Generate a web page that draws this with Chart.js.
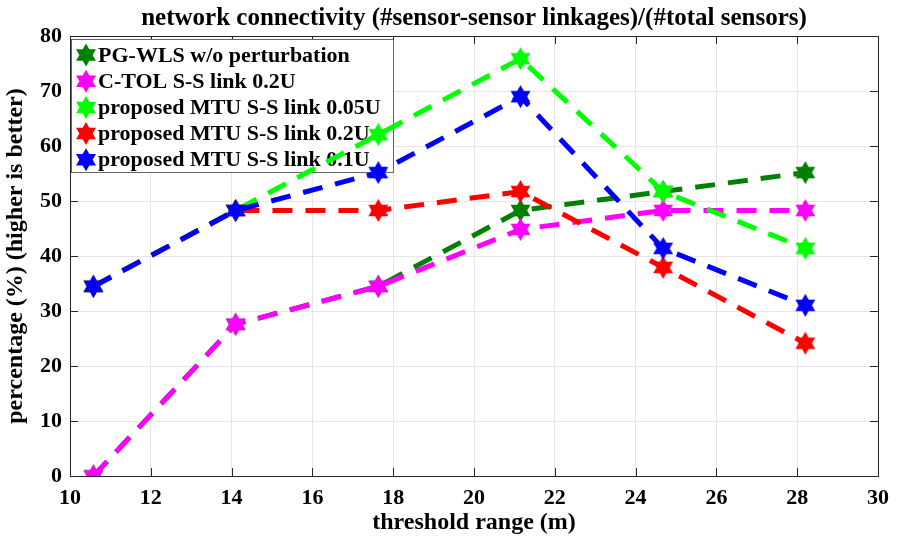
<!DOCTYPE html>
<html lang="en">
<head>
    <meta charset="utf-8">
    <script src="https://cdn.jsdelivr.net/npm/chart.js"></script>
    <title>network connectivity</title>
    <style>
        html, body { margin: 0; padding: 0; background: #fff; }
        #wrap { width: 898px; height: 538px; }
    </style>
</head>
<body>
<div id="wrap"><canvas id="chart"></canvas></div>

<script>
    // threshold range (m) on x, percentage on y
    const thresholds = [10.58, 14.1, 17.63, 21.15, 24.68, 28.2];

    const pgWls  = [0, 27.59, 34.48, 48.28, 51.72, 55.17];
    const cTol   = [0, 27.59, 34.48, 44.83, 48.28, 48.28];
    const mtu005 = [34.48, 48.28, 62.07, 75.86, 51.72, 41.38];
    const mtu02  = [34.48, 48.28, 48.28, 51.72, 37.93, 24.14];
    const mtu01  = [34.48, 48.28, 55.17, 68.97, 41.38, 31.03];

    const seriesNames = [
        'PG-WLS w/o perturbation',
        'C-TOL S-S link 0.2U',
        'proposed MTU S-S link 0.05U',
        'proposed MTU S-S link 0.2U',
        'proposed MTU S-S link 0.1U'
    ];
    const seriesColors = ['#008000', '#ff00ff', '#00ff00', '#ff0000', '#0000ff'];
    const seriesValues = [pgWls, cTol, mtu005, mtu02, mtu01];

    const xMin = 10, xMax = 30, xStep = 2;
    const yMin = 0, yMax = 80, yStep = 10;

    const FONT = '"Liberation Serif", "Times New Roman", serif';
    const AXIS_COLOR = '#262626';

    // six point star (MATLAB "hexagram")
    function starPath(g, cx, cy, r) {
        const ri = r / Math.sqrt(3);
        g.beginPath();
        for (let i = 0; i < 12; i++) {
            const a = -Math.PI / 2 + i * Math.PI / 6;
            const rr = i % 2 === 0 ? r : ri;
            const px = cx + rr * Math.cos(a), py = cy + rr * Math.sin(a);
            if (i === 0) g.moveTo(px, py); else g.lineTo(px, py);
        }
        g.closePath();
    }

    function hexagram(color, r) {
        const c = document.createElement('canvas');
        const s = Math.ceil(r * 2) + 2;
        c.width = s;
        c.height = s;
        const g = c.getContext('2d');
        g.fillStyle = color;
        starPath(g, s / 2, s / 2, r);
        g.fill();
        return c;
    }

    const datasets = seriesValues.map((vals, i) => ({
        label: seriesNames[i],
        data: vals.map((v, j) => ({ x: thresholds[j], y: v })),
        borderColor: seriesColors[i],
        backgroundColor: seriesColors[i],
        borderWidth: 5,
        borderDash: [20, 13],
        borderCapStyle: 'butt',
        pointStyle: hexagram(seriesColors[i], 11.5),
        pointRadius: 11,
        tension: 0,
        order: seriesValues.length - i   // later series on top, like MATLAB
    }));

    const framePlugin = {
        id: 'frame',
        beforeDatasetsDraw(chart) {
            const { ctx, chartArea: a, scales } = chart;
            ctx.save();

            // tick marks on all four sides
            ctx.strokeStyle = AXIS_COLOR;
            ctx.lineWidth = 1;
            const tl = 8;
            ctx.beginPath();
            for (let v = xMin; v <= xMax; v += xStep) {
                const px = Math.round(scales.x.getPixelForValue(v)) + 0.5;
                ctx.moveTo(px, a.bottom); ctx.lineTo(px, a.bottom - tl);
                ctx.moveTo(px, a.top); ctx.lineTo(px, a.top + tl);
            }
            for (let v = yMin; v <= yMax; v += yStep) {
                const py = Math.round(scales.y.getPixelForValue(v)) + 0.5;
                ctx.moveTo(a.left, py); ctx.lineTo(a.left + tl, py);
                ctx.moveTo(a.right, py); ctx.lineTo(a.right - tl, py);
            }
            ctx.stroke();
            ctx.strokeRect(Math.round(a.left) + 0.5, Math.round(a.top) + 0.5,
                Math.round(a.right - a.left), Math.round(a.bottom - a.top));

            // legend box
            const lx = 71, ly = 39, lw = 322, lh = 133, rowH = 26.2;
            ctx.fillStyle = '#fff';
            ctx.fillRect(lx, ly, lw, lh);
            ctx.strokeStyle = '#666';
            ctx.strokeRect(lx + 0.5, ly + 0.5, lw, lh);
            ctx.font = 'bold 22px ' + FONT;
            ctx.textBaseline = 'middle';
            ctx.textAlign = 'left';
            seriesNames.forEach((name, i) => {
                const cy = ly + 16 + i * rowH;
                ctx.fillStyle = seriesColors[i];
                starPath(ctx, 86, cy, 11.5);
                ctx.fill();
                ctx.fillStyle = '#000';
                ctx.fillText(name, 98, cy + 1);
            });

            // title
            ctx.font = 'bold 25px ' + FONT;
            ctx.textAlign = 'center';
            ctx.fillStyle = '#000';
            ctx.fillText('network connectivity (#sensor-sensor linkages)/(#total sensors)',
                (a.left + a.right) / 2, 19);
            ctx.restore();
        }
    };

    new Chart(document.getElementById('chart'), {
        type: 'line',
        data: { datasets },
        options: {
            responsive: true,
            maintainAspectRatio: false,
            animation: false,
            layout: { padding: { top: 36, right: 16, left: 0, bottom: 0 } },
            plugins: {
                legend: { display: false },
                tooltip: { enabled: false }
            },
            scales: {
                x: {
                    type: 'linear',
                    min: xMin,
                    max: xMax,
                    afterFit: s => { s.height = 62; },
                    border: { display: false },
                    grid: { color: '#e6e6e6', drawTicks: false },
                    ticks: {
                        stepSize: xStep,
                        padding: 9,
                        color: '#000',
                        font: { family: FONT, size: 22, weight: 'bold' }
                    },
                    title: {
                        display: true,
                        text: 'threshold range (m)',
                        color: '#000',
                        padding: { top: 0, bottom: 1 },
                        font: { family: FONT, size: 24, weight: 'bold' }
                    }
                },
                y: {
                    min: yMin,
                    max: yMax,
                    afterFit: s => { s.width = 70; },
                    border: { display: false },
                    grid: { color: '#e6e6e6', drawTicks: false },
                    ticks: {
                        stepSize: yStep,
                        padding: 8,
                        color: '#000',
                        font: { family: FONT, size: 22, weight: 'bold' }
                    },
                    title: {
                        display: true,
                        text: 'percentage (%) (higher is better)',
                        color: '#000',
                        padding: { top: 1, bottom: 0 },
                        font: { family: FONT, size: 24, weight: 'bold' }
                    }
                }
            }
        },
        plugins: [framePlugin]
    });
</script>
</body>
</html>
